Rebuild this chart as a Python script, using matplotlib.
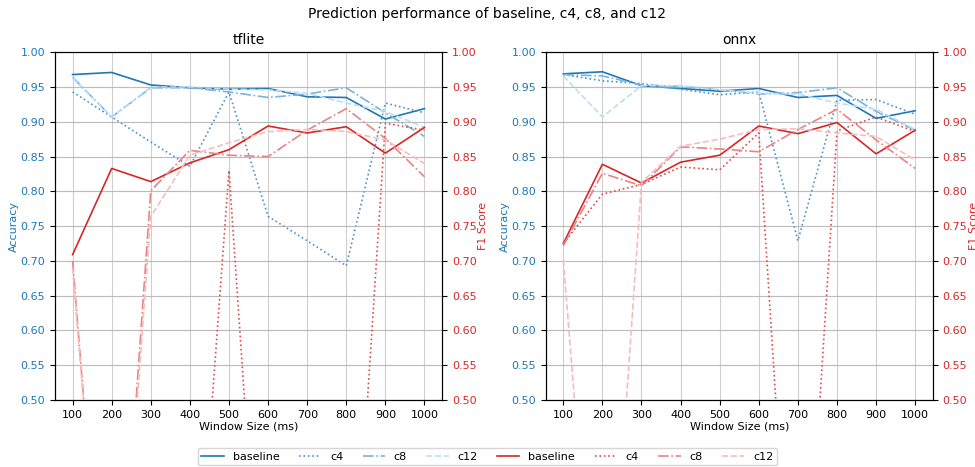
"""
Prediction performance chart: accuracy (left axis) and F1 (right axis)
"""
import matplotlib.pyplot as plt
from matplotlib.ticker import FormatStrFormatter

windows = [100, 200, 300, 400, 500, 600, 700, 800, 900, 1000]
variants = ['baseline', 'c4', 'c8', 'c12']

# tflite
tflite_acc_baseline = [0.968, 0.971, 0.953, 0.949, 0.947, 0.948, 0.936, 0.935, 0.904, 0.919]
tflite_acc_c4 = [0.943, 0.907, 0.871, 0.836, 0.943, 0.764, 0.729, 0.693, 0.927, 0.913]
tflite_acc_c8 = [0.964, 0.907, 0.949, 0.949, 0.943, 0.935, 0.940, 0.949, 0.913, 0.879]
tflite_acc_c12 = [0.963, 0.907, 0.950, 0.950, 0.947, 0.946, 0.941, 0.927, 0.915, 0.892]
tflite_f1_baseline = [0.709, 0.833, 0.814, 0.841, 0.860, 0.894, 0.884, 0.893, 0.855, 0.892]
tflite_f1_c4 = [0.0, 0.0, 0.0, 0.06, 0.830, 0.0, 0.0, 0.03, 0.898, 0.888]
tflite_f1_c8 = [0.700, 0.0, 0.801, 0.859, 0.852, 0.850, 0.888, 0.919, 0.876, 0.821]
tflite_f1_c12 = [0.690, 0.0, 0.764, 0.852, 0.870, 0.886, 0.889, 0.886, 0.874, 0.840]

# onnx
onnx_acc_baseline = [0.969, 0.972, 0.952, 0.948, 0.944, 0.948, 0.935, 0.938, 0.905, 0.916]
onnx_acc_c4 = [0.968, 0.959, 0.955, 0.947, 0.939, 0.943, 0.729, 0.931, 0.932, 0.911]
onnx_acc_c8 = [0.968, 0.966, 0.953, 0.951, 0.946, 0.940, 0.942, 0.949, 0.915, 0.888]
onnx_acc_c12 = [0.966, 0.907, 0.952, 0.952, 0.946, 0.941, 0.940, 0.927, 0.918, 0.889]
onnx_f1_baseline = [0.725, 0.839, 0.812, 0.842, 0.852, 0.894, 0.883, 0.899, 0.854, 0.888]
onnx_f1_c4 = [0.725, 0.796, 0.810, 0.835, 0.831, 0.884, 0.0, 0.887, 0.907, 0.886]
onnx_f1_c8 = [0.722, 0.826, 0.808, 0.864, 0.861, 0.857, 0.889, 0.918, 0.874, 0.833]
onnx_f1_c12 = [0.701, 0.0, 0.813, 0.865, 0.875, 0.889, 0.890, 0.884, 0.879, 0.845]

acc_data = {
    'tflite': [tflite_acc_baseline, tflite_acc_c4, tflite_acc_c8, tflite_acc_c12],
    'onnx': [onnx_acc_baseline, onnx_acc_c4, onnx_acc_c8, onnx_acc_c12],
}
f1_data = {
    'tflite': [tflite_f1_baseline, tflite_f1_c4, tflite_f1_c8, tflite_f1_c12],
    'onnx': [onnx_f1_baseline, onnx_f1_c4, onnx_f1_c8, onnx_f1_c12],
}

BLUE = '#1f77b4'
RED = '#d62728'
blue_colors = ['#1f77b4', '#4a94cc', '#7ab3dd', '#bcdff7']
red_colors = ['#d62728', '#e04c4d', '#ea8384', '#f9bcbc']
styles = ['-', ':', '-.', '--']

fig = plt.figure(figsize=(9.75, 4.67), dpi=100)
fig.suptitle('Prediction performance of baseline, c4, c8, and c12', fontsize=10, y=0.985)

lefts = [0.0564, 0.5597]
width = 0.397
handles = []
for i, fw in enumerate(['tflite', 'onnx']):
    ax = fig.add_axes([lefts[i], 0.1435, width, 0.7445])
    ax2 = ax.twinx()
    acc_lines, f1_lines = [], []
    for j, name in enumerate(variants):
        l, = ax.plot(windows, acc_data[fw][j], color=blue_colors[j],
                     linestyle=styles[j], linewidth=1.2, label=name)
        acc_lines.append(l)
        l2, = ax2.plot(windows, f1_data[fw][j], color=red_colors[j],
                       linestyle=styles[j], linewidth=1.2, label=name)
        f1_lines.append(l2)
    if i == 0:
        handles = acc_lines + f1_lines

    for a in (ax, ax2):
        a.set_ylim(0.5, 1.0)
        a.set_yticks([0.5 + 0.05 * k for k in range(11)])
        a.yaxis.set_major_formatter(FormatStrFormatter('%.2f'))
        a.grid(True, alpha=0.6)
    ax.set_xticks(windows)
    ax.tick_params(axis='x', labelsize=8)
    ax.tick_params(axis='y', labelsize=8, labelcolor=BLUE)
    ax2.tick_params(axis='y', labelsize=8, labelcolor=RED)
    ax.set_xlabel('Window Size (ms)', fontsize=8, labelpad=1)
    ax.set_ylabel('Accuracy', fontsize=8, color=BLUE, labelpad=1)
    ax2.set_ylabel('F1 Score', fontsize=8, color=RED, labelpad=1)
    ax.set_title(fw, fontsize=10)

fig.legend(handles=handles, labels=variants + variants, loc='center',
           bbox_to_anchor=(0.5, 0.022), ncol=8, fontsize=8, frameon=True,
           handlelength=2.0, columnspacing=1.75, borderpad=0.3)

plt.savefig('out.png', dpi=100)
plt.close()
